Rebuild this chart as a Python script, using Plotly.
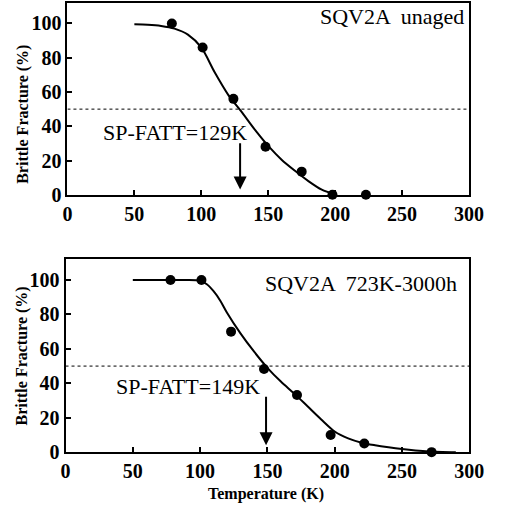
import plotly.graph_objects as go

# ---- data ----
top_pts_x = [78, 101, 124, 148, 175, 198, 223]
top_pts_y = [100, 86, 56, 28, 13.5, 0, 0]
top_fit_x = [50, 60, 70, 80, 90, 100, 110, 120, 130, 140, 150, 160, 170, 180, 190, 200]
top_fit_y = [99.5, 99.3, 98.6, 97, 93.5, 86, 71.5, 58.5, 48.5, 38, 28.5, 20.5, 14, 8, 3, 0.3]

bot_pts_x = [78, 101, 123, 147.5, 172, 197, 222, 272]
bot_pts_y = [100, 100, 70, 48.3, 33.2, 10, 5, 0]
bot_fit_x = [50, 60, 70, 80, 90, 100, 105, 110, 115, 120, 130, 140, 150, 160, 170, 180,
             190, 200, 210, 220, 230, 240, 250, 260, 270, 280, 290]
bot_fit_y = [100, 100, 100, 100, 100, 99.5, 97.5, 93.5, 88, 81, 69, 58.5, 49, 41, 34, 26.5,
             19, 12, 8, 5.5, 4, 2.8, 1.8, 1, 0.4, 0.1, 0]

x_ticks = [0, 50, 100, 150, 200, 250, 300]
y_ticks = [0, 20, 40, 60, 80, 100]
half_level = 50
top_fatt = 129
bot_fatt = 149
top_title = "SQV2A  unaged"
bot_title = "SQV2A  723K-3000h"
top_label = "SP-FATT=129K"
bot_label = "SP-FATT=149K"

FONT = "Liberation Serif"
TICKFONT = dict(family="Liberation Serif", size=20, color="black", weight="bold")

fig = go.Figure()

for (px, py, fx, fy, xa, ya) in [
    (top_pts_x, top_pts_y, top_fit_x, top_fit_y, "x", "y"),
    (bot_pts_x, bot_pts_y, bot_fit_x, bot_fit_y, "x2", "y2"),
]:
    fig.add_trace(go.Scatter(x=[0, 300], y=[half_level, half_level], mode="lines",
                             line=dict(color="black", width=1, dash="dot"),
                             xaxis=xa, yaxis=ya, showlegend=False, hoverinfo="skip"))
    fig.add_trace(go.Scatter(x=fx, y=fy, mode="lines",
                             line=dict(color="black", width=2, shape="spline", smoothing=0.8),
                             xaxis=xa, yaxis=ya, showlegend=False))
    fig.add_trace(go.Scatter(x=px, y=py, mode="markers",
                             marker=dict(color="black", size=10),
                             xaxis=xa, yaxis=ya, showlegend=False, cliponaxis=False))

fig.update_layout(
    width=508, height=516,
    font=dict(family=FONT, size=18, color="black"),
    margin=dict(l=0, r=0, t=0, b=0),
    paper_bgcolor="white", plot_bgcolor="white",
)

for name, dom_x, anchor in [
    ("xaxis", [65/508, 483/508], "y"),
    ("xaxis2", [63/508, 483.3/508], "y2"),
]:
    fig.layout[name] = go.layout.XAxis(domain=dom_x, range=[0, 300], tickvals=x_ticks, anchor=anchor)
for name, dom_y, anchor in [
    ("yaxis", [(516-199)/516, (516-3)/516], "x"),
    ("yaxis2", [(516-462)/516, (516-265)/516], "x2"),
]:
    fig.layout[name] = go.layout.YAxis(domain=dom_y, range=[0, 112], tickvals=y_ticks, anchor=anchor)

fig.update_xaxes(showline=True, linecolor="black", linewidth=2, mirror=True,
                 ticks="inside", ticklen=5, tickwidth=1.5, tickcolor="black",
                 showgrid=False, zeroline=False, tickfont=TICKFONT)
fig.update_yaxes(showline=True, linecolor="black", linewidth=2, mirror=True,
                 ticks="inside", ticklen=5, tickwidth=1.5, tickcolor="black",
                 showgrid=False, zeroline=False, tickfont=TICKFONT)

ann = []
# panel titles
ann.append(dict(x=480/508, y=(516-17)/516, xref="paper", yref="paper", text=top_title,
                showarrow=False, xanchor="right", yanchor="middle",
                font=dict(family=FONT, size=22, color="black")))
ann.append(dict(x=473/508, y=(516-290)/516, xref="paper", yref="paper", text=bot_title,
                showarrow=False, xanchor="right", yanchor="middle",
                font=dict(family=FONT, size=22, color="black")))
# FATT labels
ann.append(dict(x=80, y=36.6, xref="x", yref="y", text=top_label, showarrow=False,
                font=dict(family=FONT, size=22, color="black")))
ann.append(dict(x=90.7, y=38, xref="x2", yref="y2", text=bot_label, showarrow=False,
                font=dict(family=FONT, size=22, color="black")))
# arrows
ann.append(dict(x=top_fatt, y=3, ax=top_fatt, ay=31, xref="x", yref="y", axref="x", ayref="y",
                text="", showarrow=True, arrowhead=2, arrowsize=1.3, arrowwidth=2, arrowcolor="black"))
ann.append(dict(x=bot_fatt, y=4, ax=bot_fatt, ay=33, xref="x2", yref="y2", axref="x2", ayref="y2",
                text="", showarrow=True, arrowhead=2, arrowsize=1.3, arrowwidth=2, arrowcolor="black"))
# axis titles
for yc in [117, 364]:
    ann.append(dict(x=18/508, y=(516-yc)/516, xref="paper", yref="paper", text="Brittle Fracture (%)",
                    showarrow=False, textangle=-90, xanchor="center", yanchor="middle",
                    font=dict(family=FONT, size=16, color="black", weight="bold")))
ann.append(dict(x=272/508, y=(516-505)/516, xref="paper", yref="paper", text="Temperature (K)",
                showarrow=False, xanchor="center", yanchor="middle",
                font=dict(family=FONT, size=16, color="black", weight="bold")))
fig.update_layout(annotations=ann)

fig.write_html("out.html")
